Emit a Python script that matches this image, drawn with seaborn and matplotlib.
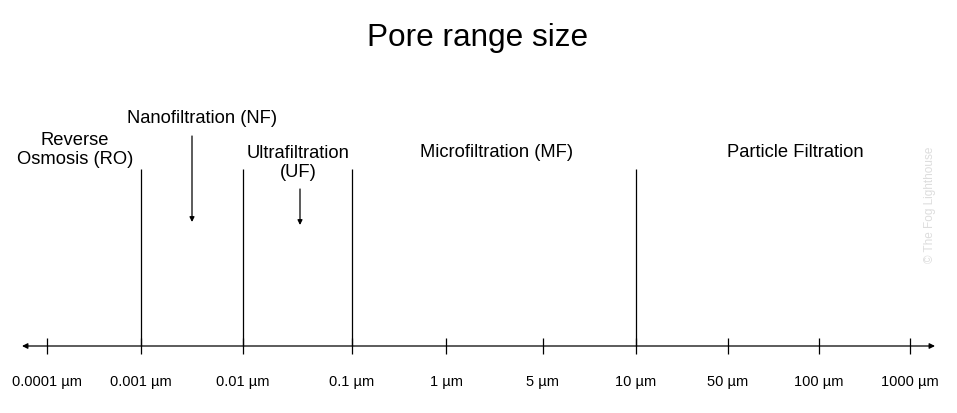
import matplotlib.pyplot as plt
import seaborn as sns

sns.set_theme(style="white", font="Liberation Sans")

tick_labels = ['0.0001 µm', '0.001 µm', '0.01 µm', '0.1 µm', '1 µm', '5 µm',
               '10 µm', '50 µm', '100 µm', '1000 µm']
tick_pos = [47, 141, 243, 352, 446, 543, 636, 728, 819, 910]
boundaries = [141, 243, 352, 636]
region_names = ['Reverse\nOsmosis (RO)', 'Nanofiltration (NF)', 'Ultrafiltration\n(UF)',
                'Microfiltration (MF)', 'Particle Filtration']
region_x = [75, 202, 298, 497, 795]
region_y = [150, 119, 163, 153, 153]
# arrows: (x, start y, tip y)
arrows = [(192, 137, 223), (300, 190, 226)]

fig = plt.figure(figsize=(9.57, 4.14), dpi=100)
ax = fig.add_axes([0, 0, 1, 1])
ax.set_xlim(0, 957)
ax.set_ylim(414, 0)
ax.axis('off')

axis_y = 347
ax.annotate('', xy=(22, axis_y), xytext=(935, axis_y),
            arrowprops=dict(arrowstyle='<|-|>', color='black', lw=0.9, mutation_scale=8,
                            shrinkA=0, shrinkB=0))
ax.vlines(tick_pos, axis_y - 8, axis_y + 8, color='black', lw=0.9)
for p, lab in zip(tick_pos, tick_labels):
    ax.text(p, 382, lab, ha='center', va='center', fontsize=10.5, color='black')

ax.vlines(boundaries, 170, axis_y, color='black', lw=0.9)

for x, y, name in zip(region_x, region_y, region_names):
    ax.text(x, y, name, ha='center', va='center', fontsize=13.2, linespacing=1.15,
            color='black')

for x, y0, y1 in arrows:
    ax.annotate('', xy=(x, y1), xytext=(x, y0),
                arrowprops=dict(arrowstyle='-|>', color='black', lw=0.9, mutation_scale=7,
                                shrinkA=0, shrinkB=0))

ax.text(478, 38, 'Pore range size', ha='center', va='center', fontsize=22.7, color='black')
ax.text(930, 205, '© The Fog Lighthouse', rotation=90, ha='center', va='center',
        fontsize=8.5, color='#dddddd')

fig.savefig('out.png', dpi=100)
